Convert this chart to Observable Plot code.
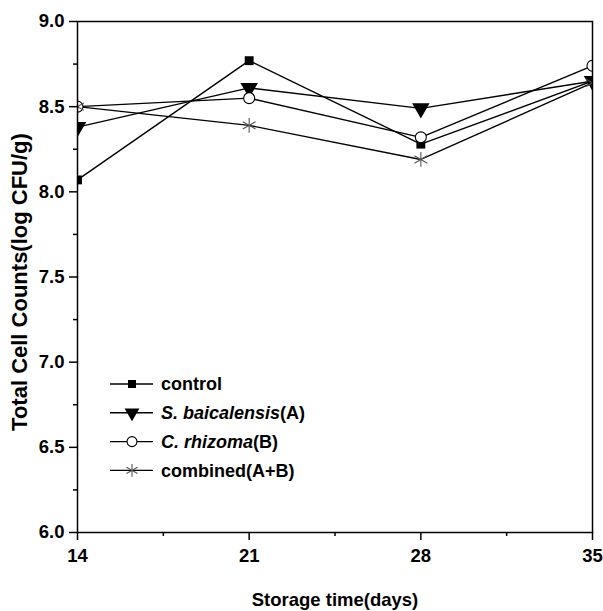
<!DOCTYPE html>
<html>
<head>
<meta charset="utf-8">
<script src="https://cdn.jsdelivr.net/npm/d3@7"></script>
<script src="https://cdn.jsdelivr.net/npm/@observablehq/plot@0.6"></script>
<style>
  html, body { margin: 0; padding: 0; background: #fff; }
  #chart { position: relative; width: 603px; height: 611px; }
</style>
</head>
<body>
<div id="chart"></div>
<script>
// ---- data ----
const days = [14, 21, 28, 35];
const control = [8.07, 8.77, 8.28, 8.65];
const sBaicalensis = [8.38, 8.61, 8.49, 8.65];
const cRhizoma = [8.50, 8.55, 8.32, 8.74];
const combined = [8.50, 8.39, 8.19, 8.64];
const seriesKeys = ["control", "sb", "cr", "comb"];
const seriesValues = [control, sBaicalensis, cRhizoma, combined];
const legendParts = [
  [["control", false]],
  [["S. baicalensis", true], ["(A)", false]],
  [["C. rhizoma", true], ["(B)", false]],
  [["combined(A+B)", false]]
];
const xMajor = [14, 21, 28, 35];
const xMinor = [17.5, 24.5, 31.5];
const yMajor = [6.0, 6.5, 7.0, 7.5, 8.0, 8.5, 9.0];
const yMinor = [6.25, 6.75, 7.25, 7.75, 8.25, 8.75];
const xTitle = "Storage time(days)";
const yTitle = "Total Cell Counts(log CFU/g)";

// ---- styles ----
const symStyle = {
  control: {symbol: "square", fill: "black", stroke: "none", r: 5, rotate: 0},
  sb: {symbol: "triangle", fill: "black", stroke: "none", r: 6.5, rotate: 180},
  cr: {symbol: "circle", fill: "white", stroke: "black", r: 5.5, rotate: 0},
  comb: {symbol: "asterisk", fill: "none", stroke: "#555", r: 7, rotate: 0}
};

const rows = [];
seriesKeys.forEach((k, i) => days.forEach((d, j) => rows.push({key: k, day: d, value: seriesValues[i][j]})));

const marks = [];
for (const k of seriesKeys) {
  const data = rows.filter(r => r.key === k);
  marks.push(Plot.line(data, {x: "day", y: "value", stroke: "black", strokeWidth: 1.4, clip: true}));
}
for (const k of seriesKeys) {
  const data = rows.filter(r => r.key === k);
  const s = symStyle[k];
  marks.push(Plot.dot(data, {x: "day", y: "value", symbol: () => s.symbol, r: s.r, fill: s.fill, stroke: s.stroke, strokeWidth: 1.1, rotate: s.rotate, clip: true}));
}

const chart = Plot.plot({
  width: 603,
  height: 611,
  marginLeft: 77,
  marginRight: 11,
  marginTop: 21,
  marginBottom: 79,
  style: {fontFamily: "'Liberation Sans', Arial, sans-serif", fontSize: "18.5px", fontWeight: "bold", color: "black", background: "white", overflow: "visible"},
  x: {domain: [14, 35]},
  y: {domain: [6, 9]},
  symbol: {type: "identity"},
  marks: [
    ...marks,
    Plot.frame({stroke: "black", strokeWidth: 1.5}),
    Plot.axisY({ticks: yMajor, tickSize: 8, tickPadding: 5, tickFormat: d3.format(".1f"), strokeWidth: 1.5,
      fontSize: 18.5, label: null}),
    Plot.axisY({ticks: yMinor, tickSize: 4, text: null, label: null, strokeWidth: 1.5}),
    Plot.axisX({ticks: xMajor, tickSize: 8, tickPadding: 8, tickFormat: d3.format("d"), strokeWidth: 1.5,
      fontSize: 18.5, label: xTitle, labelAnchor: "center", labelOffset: 73, labelArrow: "none"}),
    Plot.axisX({ticks: xMinor, tickSize: 4, text: null, label: null, strokeWidth: 1.5}),
    Plot.text([yTitle], {frameAnchor: "left", dx: -66, dy: 5, rotate: -90, textAnchor: "middle", lineAnchor: "top", fontSize: 22, fontWeight: "bold", fill: "black"})
  ]
});
document.getElementById("chart").appendChild(chart);

// ---- legend inside the frame ----
const svg = d3.select(chart);
const lg = svg.append("g").attr("transform", "translate(110,384)");
const rowGap = 28.8;
const symGen = {
  control: d3.symbol(d3.symbolSquare, Math.PI * 4.5 * 4.5),
  sb: d3.symbol(d3.symbolTriangle, Math.PI * 5.5 * 5.5),
  cr: d3.symbol(d3.symbolCircle, Math.PI * 5 * 5),
  comb: d3.symbol(d3.symbolAsterisk, Math.PI * 36)
};
seriesKeys.forEach((k, i) => {
  const g = lg.append("g").attr("transform", `translate(0,${i * rowGap})`);
  g.append("line").attr("x1", 0).attr("x2", 43).attr("y1", 0).attr("y2", 0).attr("stroke", "black").attr("stroke-width", 1.4);
  const s = symStyle[k];
  g.append("path").attr("d", symGen[k]()).attr("transform", `translate(22,0) rotate(${s.rotate})`)
    .attr("fill", s.fill).attr("stroke", s.stroke === "none" ? null : s.stroke).attr("stroke-width", 1.1);
  const t = g.append("text").attr("x", 51).attr("y", 0).attr("dy", "0.35em")
    .attr("text-anchor", "start")
    .attr("font-size", 18).attr("font-weight", "bold").attr("fill", "black");
  legendParts[i].forEach(([txt, it]) => t.append("tspan").attr("font-style", it ? "italic" : "normal").text(txt));
});
</script>
</body>
</html>
